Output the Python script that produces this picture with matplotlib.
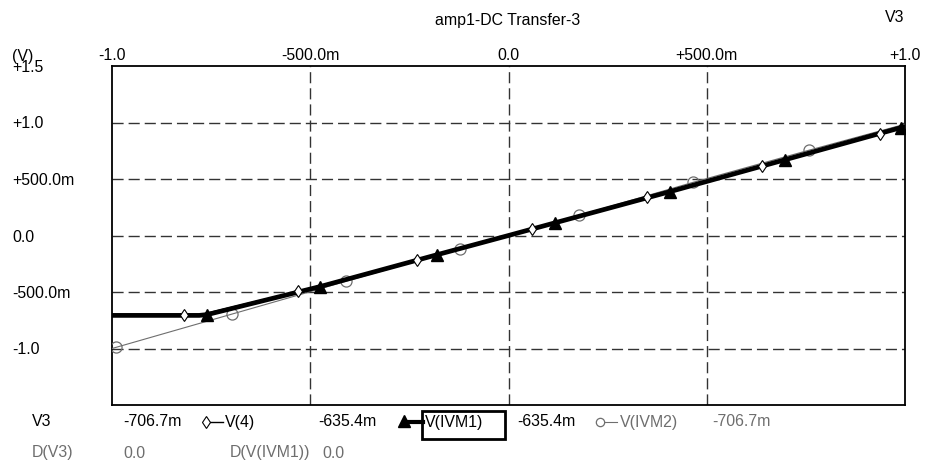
import matplotlib
matplotlib.use('Agg')
import matplotlib.pyplot as plt
from matplotlib.lines import Line2D
from matplotlib.patches import Rectangle

plt.rcParams['font.family'] = ['Liberation Sans', 'DejaVu Sans']
FS = 11.4
GRAY = '#6e6e6e'

# V3 sweep values and traces
x_v4 = [-1.0, -0.818, -0.78, -0.531, -0.231, 0.0, 0.059, 0.349, 0.639, 0.937, 1.0]
y_v4 = [-0.707, -0.707, -0.703, -0.495, -0.218, 0.0, 0.058, 0.338, 0.612, 0.900, 0.965]
mk_v4 = [1, 3, 4, 6, 7, 8, 9]

x_ivm1 = [-1.0, -0.78, -0.76, -0.475, -0.18, 0.0, 0.117, 0.407, 0.697, 0.99, 1.0]
y_ivm1 = [-0.707, -0.707, -0.700, -0.452, -0.170, 0.0, 0.112, 0.388, 0.670, 0.955, 0.962]
mk_ivm1 = [2, 3, 4, 6, 7, 8, 9]

x_ivm2 = [-1.0, -0.99, -0.697, -0.5, -0.41, -0.122, 0.0, 0.178, 0.465, 0.758, 1.0]
y_ivm2 = [-1.0, -0.99, -0.695, -0.497, -0.405, -0.118, 0.0, 0.178, 0.470, 0.755, 0.985]
mk_ivm2 = [1, 2, 4, 5, 7, 8, 9]

x_ticks = [-1.0, -0.5, 0.0, 0.5, 1.0]
x_labels = ['-1.0', '-500.0m', '0.0', '+500.0m', '+1.0']
y_ticks = [1.5, 1.0, 0.5, 0.0, -0.5, -1.0]
y_labels = ['+1.5', '+1.0', '+500.0m', '0.0', '-500.0m', '-1.0']

# cursor readout rows: (text, x px, colour)
row1 = [('V3', 32, 'black'), ('-706.7m', 123, 'black'), ('V(4)', 225, 'black'),
        ('-635.4m', 318, 'black'), ('V(IVM1)', 425, 'black'),
        ('-635.4m', 517, 'black'), ('V(IVM2)', 620, GRAY), ('-706.7m', 712, GRAY)]
row2 = [('D(V3)', 32, GRAY), ('0.0', 123, GRAY), ('D(V(IVM1))', 230, GRAY), ('0.0', 322, GRAY)]

W, H = 927, 466
fig = plt.figure(figsize=(W / 100, H / 100), dpi=100)
ax = fig.add_axes([112 / W, (H - 405) / H, 793 / W, 339 / H])

ax.plot(x_ivm2, y_ivm2, color=GRAY, lw=0.8, marker='o', markevery=mk_ivm2,
        ms=8, mfc='none', mec=GRAY, mew=0.9, zorder=3)
ax.plot(x_ivm1, y_ivm1, color='black', lw=3.4, marker='^', markevery=mk_ivm1,
        ms=8.5, mfc='black', mec='black', zorder=4)
ax.plot(x_v4, y_v4, color='black', lw=1.0, marker='d', markevery=mk_v4,
        ms=6, mfc='white', mec='black', mew=0.8, zorder=5)

ax.set_xlim(-1.0, 1.0)
ax.set_ylim(-1.5, 1.5)
ax.xaxis.tick_top()
ax.set_xticks(x_ticks)
ax.set_xticklabels(x_labels, fontsize=FS)
ax.set_yticks(y_ticks)
ax.set_yticklabels(y_labels, fontsize=FS, ha='left')
ax.tick_params(axis='x', length=0, pad=2.5)
ax.tick_params(axis='y', length=0, pad=72)

for v in [-0.5, 0.0, 0.5]:
    ax.axvline(v, color='#333333', lw=1.0, ls=(0, (8, 3.6)), zorder=1)
for v in [-1.0, -0.5, 0.0, 0.5, 1.0]:
    ax.axhline(v, color='#333333', lw=1.0, ls=(0, (8, 3.6)), zorder=1)
for s in ax.spines.values():
    s.set_linewidth(1.3)
    s.set_color('black')

# overlay in pixel coordinates for title and readout text
ov = fig.add_axes([0, 0, 1, 1], zorder=10)
ov.set_xlim(0, W)
ov.set_ylim(H, 0)
ov.axis('off')
ov.patch.set_alpha(0)

ov.text(508, 20, 'amp1-DC Transfer-3', fontsize=FS, ha='center', va='center')
ov.text(904, 18, 'V3', fontsize=FS, ha='right', va='center')
ov.text(12, 56, '(V)', fontsize=FS, ha='left', va='center')

for txt, x, c in row1:
    ov.text(x, 422, txt, fontsize=FS, ha='left', va='center', color=c)
for txt, x, c in row2:
    ov.text(x, 453, txt, fontsize=FS, ha='left', va='center', color=c)

ov.add_line(Line2D([206, 223], [422, 422], color='black', lw=1.0))
ov.plot([206], [422], marker='d', ms=6, mfc='white', mec='black', mew=0.8)
ov.add_line(Line2D([404, 423], [422, 422], color='black', lw=3.0))
ov.plot([404], [421], marker='^', ms=8, color='black')
ov.add_patch(Rectangle((422, 411), 83, 28, fill=False, lw=2, ec='black'))
ov.add_line(Line2D([600, 617], [422, 422], color=GRAY, lw=0.8))
ov.plot([600], [422], marker='o', ms=6, mfc='white', mec=GRAY, mew=0.9)

fig.savefig('out.png', dpi=100)
